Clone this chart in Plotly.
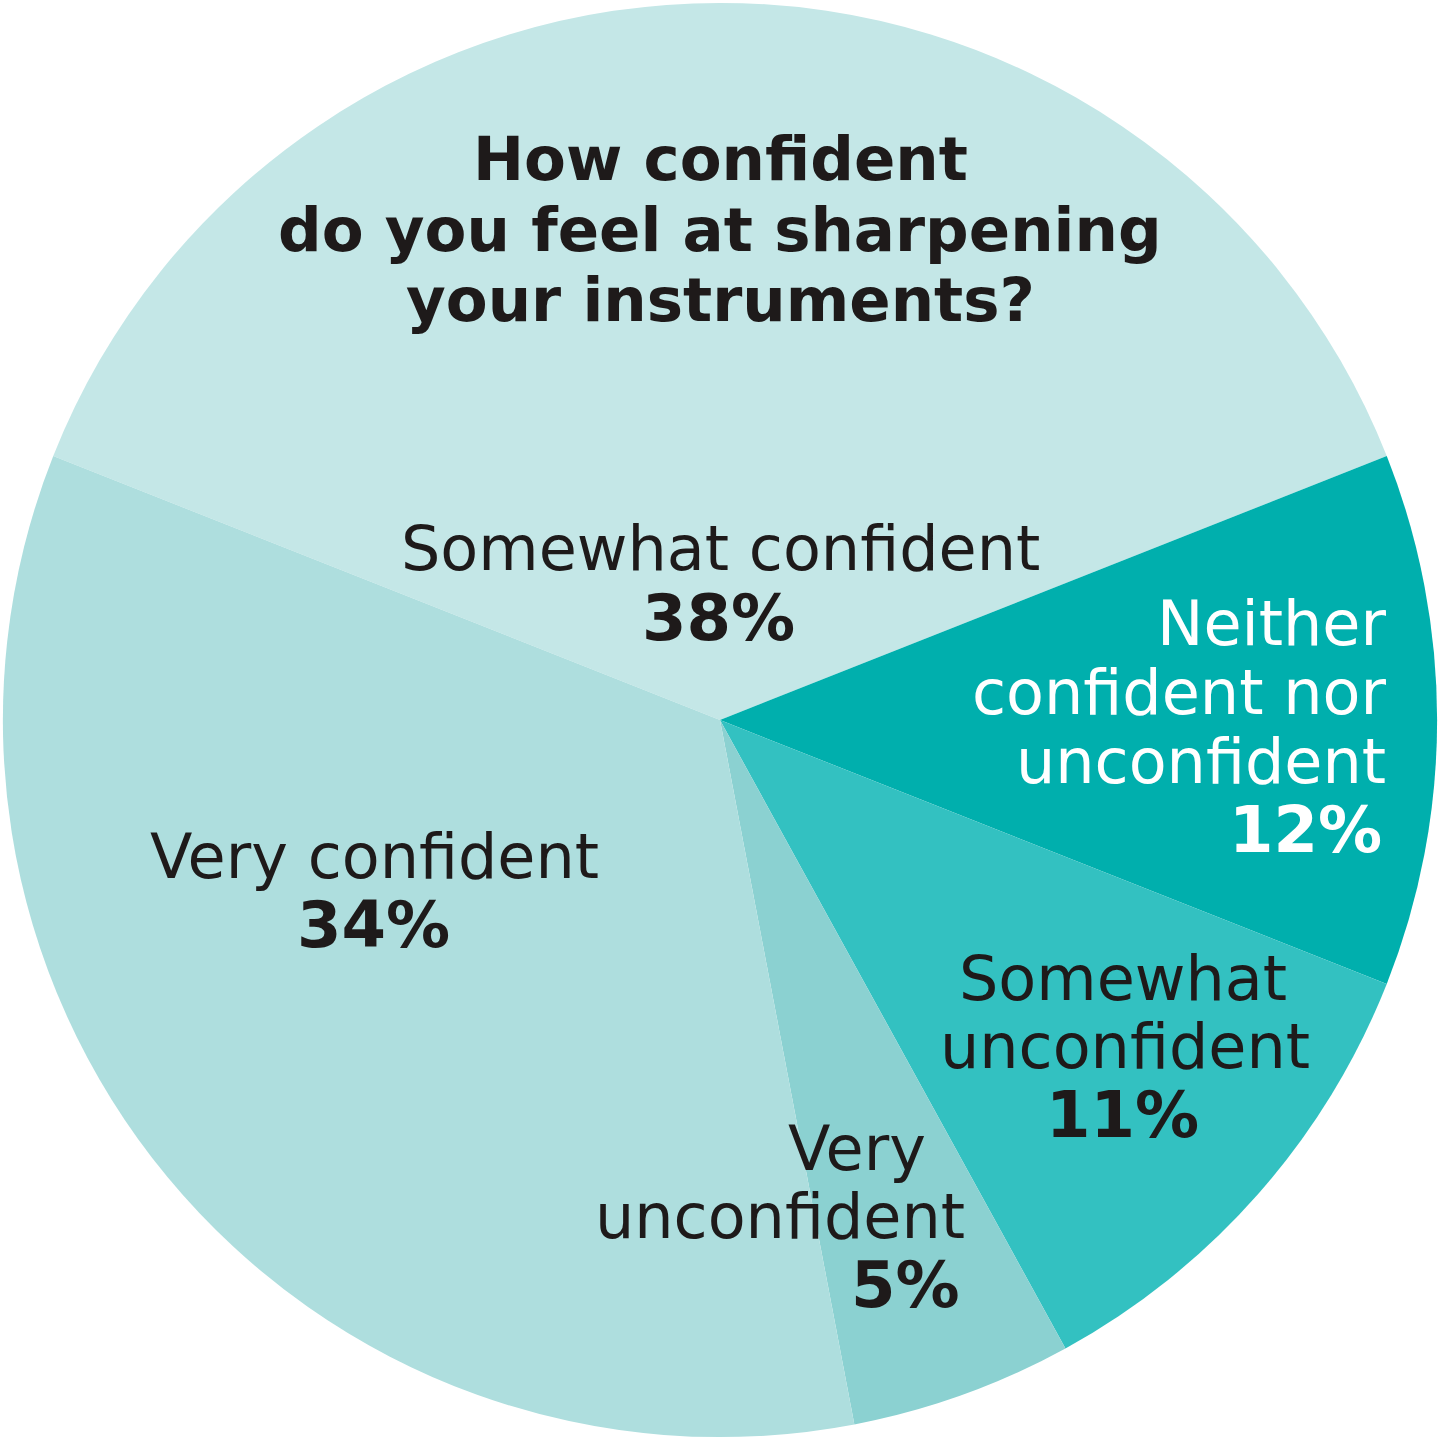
import plotly.graph_objects as go

# ---- data ----
categories = ["Somewhat confident", "Neither confident nor unconfident",
              "Somewhat unconfident", "Very unconfident", "Very confident"]
values = [38, 12, 11, 5, 34]
colors = ["#C4E7E7", "#00AFAD", "#33C1C1", "#8BD1D1", "#AEDEDE"]
label_lines = [
    ["Somewhat confident"],
    ["Neither", "confident nor", "unconfident"],
    ["Somewhat", "unconfident"],
    ["Very", "unconfident"],
    ["Very confident"],
]
title_lines = ["How confident", "do you feel at sharpening", "your instruments?"]

W = H = 1440

fig = go.Figure(go.Pie(
    labels=categories,
    values=values,
    sort=False,
    direction="clockwise",
    rotation=-values[0] / 100 * 360 / 2,
    marker=dict(colors=colors, line=dict(width=0)),
    textinfo="none",
    hoverinfo="none",
    domain=dict(x=[0.002, 0.998], y=[0.002, 0.998]),
    showlegend=False,
))

DARK = "#1E1A1A"
REG = "DejaVu Sans"
BOLD = "DejaVu Sans"

# layout per label: (x_px, y_center_px, xanchor) for each text line, then the percent line
label_layout = [
    dict(lines=[(720, 548, "center")], pct=(718, 618, "center"), color=DARK),
    dict(lines=[(1388, 623, "right"), (1388, 692, "right"), (1388, 761, "right")],
         pct=(1384, 830, "right"), color="#FFFFFF"),
    dict(lines=[(1123, 978, "center"), (1125, 1046, "center")], pct=(1122, 1115, "center"), color=DARK),
    dict(lines=[(928, 1148, "right"), (967, 1216, "right")], pct=(962, 1285, "right"), color=DARK),
    dict(lines=[(374, 856, "center")], pct=(373, 925, "center"), color=DARK),
]

annotations = []
def add(text, xpx, ypx, anchor, size, color, bold=False):
    annotations.append(dict(
        text=f"<b>{text}</b>" if bold else text,
        x=xpx / W, y=1 - ypx / H, xref="paper", yref="paper",
        xanchor=anchor, yanchor="middle", showarrow=False,
        font=dict(family=BOLD if bold else REG, size=size, color=color),
    ))

for lines, lay, val in zip(label_lines, label_layout, values):
    for txt, (xp, yp, anc) in zip(lines, lay["lines"]):
        add(txt, xp, yp, anc, 62, lay["color"])
    xp, yp, anc = lay["pct"]
    add(f"{val}%", xp, yp, anc, 64, lay["color"], bold=True)

for txt, yp in zip(title_lines, [159, 229, 299]):
    add(txt, 720, yp, "center", 61, DARK, bold=True)

fig.update_layout(
    width=W, height=H,
    margin=dict(l=0, r=0, t=0, b=0),
    paper_bgcolor="#FFFFFF",
    plot_bgcolor="#FFFFFF",
    annotations=annotations,
)

fig.write_html("out.html",
               config={"displayModeBar": False, "staticPlot": True},
               post_script="document.body.style.margin='0';document.body.style.overflow='hidden';")
